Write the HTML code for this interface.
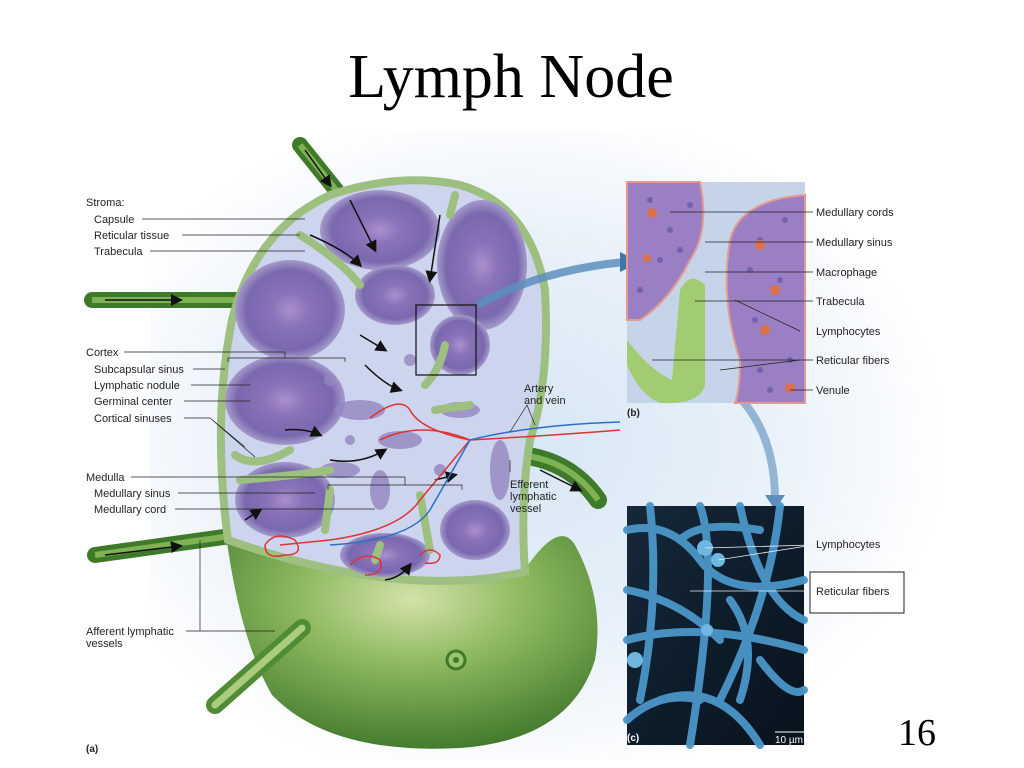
<!DOCTYPE html>
<html><head><meta charset="utf-8"><style>
html,body{margin:0;padding:0;background:#fff}
svg{display:block}
text{font-family:"Liberation Sans",sans-serif;font-size:11px;fill:#222}
</style></head><body>
<svg width="1024" height="768" viewBox="0 0 1024 768" xmlns="http://www.w3.org/2000/svg">
<defs>
<radialGradient id="bg" cx="0.45" cy="0.5" r="0.55">
<stop offset="0" stop-color="#d6e6f4"/><stop offset="0.6" stop-color="#e9f1f9"/><stop offset="1" stop-color="#ffffff"/>
</radialGradient>
<radialGradient id="bowl" cx="0.5" cy="0.3" r="0.75">
<stop offset="0" stop-color="#d3e2aa"/><stop offset="0.4" stop-color="#8fba60"/><stop offset="1" stop-color="#3b7428"/>
</radialGradient>
<radialGradient id="nod" cx="0.5" cy="0.5" r="0.5">
<stop offset="0" stop-color="#a990cc"/><stop offset="0.35" stop-color="#8a72b8"/><stop offset="0.8" stop-color="#7a68ae"/><stop offset="1" stop-color="#a49acb"/>
</radialGradient>
<linearGradient id="panelc" x1="0" y1="0" x2="1" y2="1">
<stop offset="0" stop-color="#15283a"/><stop offset="1" stop-color="#08121c"/>
</linearGradient>
<marker id="ah" markerWidth="8" markerHeight="8" refX="6" refY="4" orient="auto"><path d="M0,0 L8,4 L0,8 z" fill="#111"/></marker>
</defs>
<rect width="1024" height="768" fill="#fff"/>
<rect x="150" y="130" width="800" height="630" fill="url(#bg)"/>
<text x="511" y="97" text-anchor="middle" style="font-family:'Liberation Serif',serif;font-size:62px;fill:#000">Lymph Node</text>

<!-- vessels -->
<g stroke="#3f7a2a" stroke-width="16" fill="none" stroke-linecap="round">
<path d="M300,145 L348,205"/>
<path d="M92,300 L240,300"/>
<path d="M95,555 L238,535"/>
<path d="M450,445 L520,455 Q570,460 598,500" stroke-width="18"/>
</g>
<g stroke="#7fb255" stroke-width="6" fill="none">
<path d="M300,145 L348,205"/><path d="M92,300 L240,300"/><path d="M95,555 L238,535"/><path d="M450,445 L520,455 Q570,460 598,500"/>
</g>

<!-- bowl -->
<path d="M226,535 Q380,600 528,565 Q560,520 575,545 Q605,600 595,660 Q570,740 460,748 Q330,755 272,695 Q240,640 226,535 z" fill="url(#bowl)"/>
<path d="M215,705 L302,628" stroke="#4f8c33" stroke-width="18" stroke-linecap="round"/>
<path d="M215,705 L302,628" stroke="#a9cc7f" stroke-width="7" stroke-linecap="round"/>
<circle cx="456" cy="660" r="9" fill="#9cc46e" stroke="#3f7a2a" stroke-width="3"/>
<circle cx="456" cy="660" r="3" fill="#3f7a2a"/>

<!-- node cut face -->
<path d="M228,540 Q212,420 232,320 Q255,230 330,195 Q400,172 460,185 Q530,205 545,290 Q550,380 530,440 Q520,500 525,572 Q400,600 228,540 z" fill="#cdd5ee" stroke="#9dbf7f" stroke-width="8"/>
<g fill="url(#nod)">
<ellipse cx="380" cy="230" rx="60" ry="40"/>
<ellipse cx="482" cy="265" rx="45" ry="65"/>
<ellipse cx="290" cy="310" rx="55" ry="50"/>
<ellipse cx="395" cy="295" rx="40" ry="30"/>
<ellipse cx="285" cy="400" rx="60" ry="45"/>
<ellipse cx="285" cy="500" rx="50" ry="38"/>
<ellipse cx="460" cy="345" rx="30" ry="30"/>
<ellipse cx="385" cy="555" rx="45" ry="22"/>
<ellipse cx="475" cy="530" rx="35" ry="30"/>
</g>
<g fill="#9486c0" opacity="0.8">
<ellipse cx="360" cy="410" rx="25" ry="10"/><ellipse cx="400" cy="440" rx="22" ry="9"/>
<ellipse cx="340" cy="470" rx="20" ry="8"/><ellipse cx="460" cy="410" rx="20" ry="8"/>
<ellipse cx="380" cy="490" rx="10" ry="20"/><ellipse cx="500" cy="470" rx="10" ry="30"/>
<circle cx="330" cy="380" r="6"/><circle cx="410" cy="360" r="6"/><circle cx="350" cy="440" r="5"/><circle cx="440" cy="470" r="6"/>
</g>
<g stroke="#9dbf7f" stroke-width="8" fill="none" stroke-linecap="round">
<path d="M300,235 Q340,260 360,285"/><path d="M455,195 L450,215"/>
<path d="M235,455 Q255,470 290,450"/><path d="M240,480 Q300,475 330,470"/>
<path d="M435,410 L470,405"/><path d="M330,490 L325,530"/><path d="M420,495 L430,550"/>
<path d="M445,345 Q440,370 425,385"/><path d="M380,545 L375,560"/>
</g>
<g stroke="#111" stroke-width="1.5" fill="none" marker-end="url(#ah)">
<path d="M350,200 L375,250"/><path d="M440,215 L430,280"/>
<path d="M310,235 Q345,250 360,265"/><path d="M365,365 Q385,385 400,390"/>
<path d="M360,335 L385,350"/><path d="M285,430 Q305,428 320,435"/>
<path d="M330,460 Q360,465 385,450"/><path d="M435,480 L455,475"/>
<path d="M385,580 Q400,578 410,565"/><path d="M245,520 L260,510"/>
<path d="M105,300 L180,300"/><path d="M105,555 L180,546"/>
<path d="M305,150 L330,185"/><path d="M540,470 L580,490"/>
</g>
<g fill="none" stroke-width="1.5">
<path d="M370,418 Q400,395 410,410 Q420,430 470,440 Q560,435 620,430" stroke="#d33"/>
<path d="M380,440 Q420,420 470,440 L420,500 Q400,530 330,540 L280,545" stroke="#d33"/>
<path d="M470,440 Q530,425 620,422" stroke="#2a6fc8"/>
<path d="M470,440 L430,510 Q410,540 330,545" stroke="#2a6fc8"/>
<path d="M265,545 q10,-15 30,-5 q10,15 -10,15 q-20,5 -20,-10" stroke="#d33"/>
<path d="M350,565 q15,-15 30,-5 q5,15 -15,15" stroke="#d33"/>
<path d="M420,555 q10,-10 20,0 q0,10 -15,8" stroke="#d33"/>
</g>
<rect x="416" y="305" width="60" height="70" fill="none" stroke="#111" stroke-width="1.2"/>
<path d="M478,305 Q540,270 625,262" stroke="#5c8fbd" stroke-width="8" fill="none" opacity="0.85"/>
<path d="M620,252 L640,262 L620,272 z" fill="#3f78a8"/>
<path d="M720,380 Q775,420 775,500" stroke="#7ea5c9" stroke-width="8" fill="none" opacity="0.8"/>
<path d="M765,495 L775,510 L785,495 z" fill="#5c8fbd"/>

<!-- panel b -->
<rect x="627" y="182" width="178" height="221" fill="#c6d4ea"/>
<path d="M627,182 L700,182 Q710,230 690,260 Q670,300 640,320 L627,320 z" fill="#9a7fc4" stroke="#e59a8d" stroke-width="2"/>
<path d="M805,195 Q740,200 730,240 Q720,300 740,360 Q740,390 735,403 L805,403 z" fill="#9a7fc4" stroke="#e59a8d" stroke-width="2"/>
<path d="M680,290 Q690,270 705,285 L705,385 Q700,405 660,403 Q640,395 627,365 L627,340 Q650,370 672,380 z" fill="#a2cc72"/>
<g fill="#5a4ea0" opacity="0.6">
<circle cx="650" cy="200" r="3"/><circle cx="670" cy="230" r="3"/><circle cx="690" cy="205" r="3"/><circle cx="660" cy="260" r="3"/>
<circle cx="760" cy="240" r="3"/><circle cx="780" cy="280" r="3"/><circle cx="755" cy="320" r="3"/><circle cx="790" cy="360" r="3"/><circle cx="770" cy="390" r="3"/>
<circle cx="640" cy="290" r="3"/><circle cx="680" cy="250" r="3"/><circle cx="750" cy="270" r="3"/><circle cx="785" cy="220" r="3"/><circle cx="760" cy="370" r="3"/>
</g>
<g fill="#d9714a"><circle cx="652" cy="213" r="5"/><circle cx="760" cy="245" r="5"/><circle cx="775" cy="290" r="5"/><circle cx="765" cy="330" r="5"/><circle cx="790" cy="388" r="5"/><circle cx="647" cy="258" r="4"/></g>
<text x="627" y="416" style="font-weight:bold;font-size:10px">(b)</text>
<g stroke="#222" stroke-width="0.7">
<line x1="670" y1="212" x2="813" y2="212"/><line x1="705" y1="242" x2="813" y2="242"/>
<line x1="705" y1="272" x2="813" y2="272"/><line x1="695" y1="301" x2="813" y2="301"/>
<line x1="735" y1="300" x2="800" y2="331"/><line x1="652" y1="360" x2="813" y2="360"/>
<line x1="720" y1="370" x2="800" y2="360"/><line x1="790" y1="390" x2="813" y2="390"/>
</g>
<text x="816" y="216">Medullary cords</text><text x="816" y="246">Medullary sinus</text>
<text x="816" y="276">Macrophage</text><text x="816" y="305">Trabecula</text>
<text x="816" y="335">Lymphocytes</text><text x="816" y="364">Reticular fibers</text>
<text x="816" y="394">Venule</text>

<!-- panel c -->
<rect x="627" y="506" width="177" height="239" fill="url(#panelc)"/>
<g stroke="#4a96c8" stroke-width="8" fill="none" stroke-linecap="round" opacity="0.95">
<path d="M627,530 Q670,520 700,560 Q730,600 804,580"/>
<path d="M650,506 Q660,600 640,700"/><path d="M700,506 Q720,560 690,745"/>
<path d="M627,640 Q700,620 804,650"/><path d="M740,506 Q760,600 804,620"/>
<path d="M660,700 Q720,680 760,745"/><path d="M780,506 Q770,600 720,700"/>
<path d="M627,590 Q680,600 720,640"/><path d="M627,720 Q660,690 700,700"/>
<path d="M760,660 Q790,700 804,690"/><path d="M680,540 Q700,520 760,530"/>
<path d="M730,600 Q760,640 740,700"/>
</g>
<g fill="#6fb6e0"><circle cx="705" cy="548" r="8"/><circle cx="718" cy="560" r="7"/><circle cx="635" cy="660" r="8"/><circle cx="707" cy="630" r="6"/></g>
<line x1="705" y1="548" x2="813" y2="545" stroke="#eee" stroke-width="0.8"/>
<line x1="718" y1="560" x2="813" y2="545" stroke="#eee" stroke-width="0.8"/>
<line x1="690" y1="591" x2="813" y2="591" stroke="#eee" stroke-width="0.8"/>
<text x="816" y="548">Lymphocytes</text>
<rect x="810" y="572" width="94" height="41" fill="#fff" stroke="#222" stroke-width="1"/>
<text x="816" y="595">Reticular fibers</text>
<text x="627" y="741" style="font-weight:bold;font-size:10px;fill:#fff">(c)</text>
<line x1="775" y1="732" x2="804" y2="732" stroke="#fff"/>
<text x="775" y="743" style="font-size:10px;fill:#fff">10 µm</text>
<text x="898" y="745" style="font-family:'Liberation Serif',serif;font-size:38px;fill:#000">16</text>

<g stroke="#222" stroke-width="0.7" fill="none">
<line x1="142" y1="219" x2="305" y2="219"/><line x1="182" y1="235" x2="300" y2="235"/>
<line x1="150" y1="251" x2="305" y2="251"/>
<line x1="124" y1="352" x2="285" y2="352"/><path d="M228,362 V358 H345 V362"/><line x1="285" y1="352" x2="285" y2="358"/>
<line x1="193" y1="369" x2="225" y2="369"/><line x1="191" y1="385" x2="250" y2="385"/>
<line x1="184" y1="401" x2="250" y2="401"/><line x1="184" y1="418" x2="210" y2="418"/>
<path d="M210,418 L245,447 M210,418 L255,457"/>
<line x1="131" y1="477" x2="405" y2="477"/><path d="M328,490 V485 H462 V490"/><line x1="405" y1="477" x2="405" y2="485"/>
<line x1="178" y1="493" x2="315" y2="493"/><line x1="175" y1="509" x2="375" y2="509"/>
<path d="M186,631 H200 M200,540 V631 M200,631 H275"/>
<path d="M527,405 L510,432 M527,405 L535,425"/><line x1="510" y1="460" x2="510" y2="472"/>
</g>
<text x="86" y="206">Stroma:</text>
<text x="94" y="223">Capsule</text><text x="94" y="239">Reticular tissue</text><text x="94" y="255">Trabecula</text>
<text x="86" y="356">Cortex</text>
<text x="94" y="373">Subcapsular sinus</text><text x="94" y="389">Lymphatic nodule</text>
<text x="94" y="405">Germinal center</text><text x="94" y="422">Cortical sinuses</text>
<text x="86" y="481">Medulla</text>
<text x="94" y="497">Medullary sinus</text><text x="94" y="513">Medullary cord</text>
<text x="86" y="635">Afferent lymphatic</text><text x="86" y="647">vessels</text>
<text x="524" y="392">Artery</text><text x="524" y="404">and vein</text>
<text x="510" y="488">Efferent</text><text x="510" y="500">lymphatic</text><text x="510" y="512">vessel</text>
<text x="86" y="752" style="font-weight:bold;font-size:10px">(a)</text>
</svg>
</body></html>
